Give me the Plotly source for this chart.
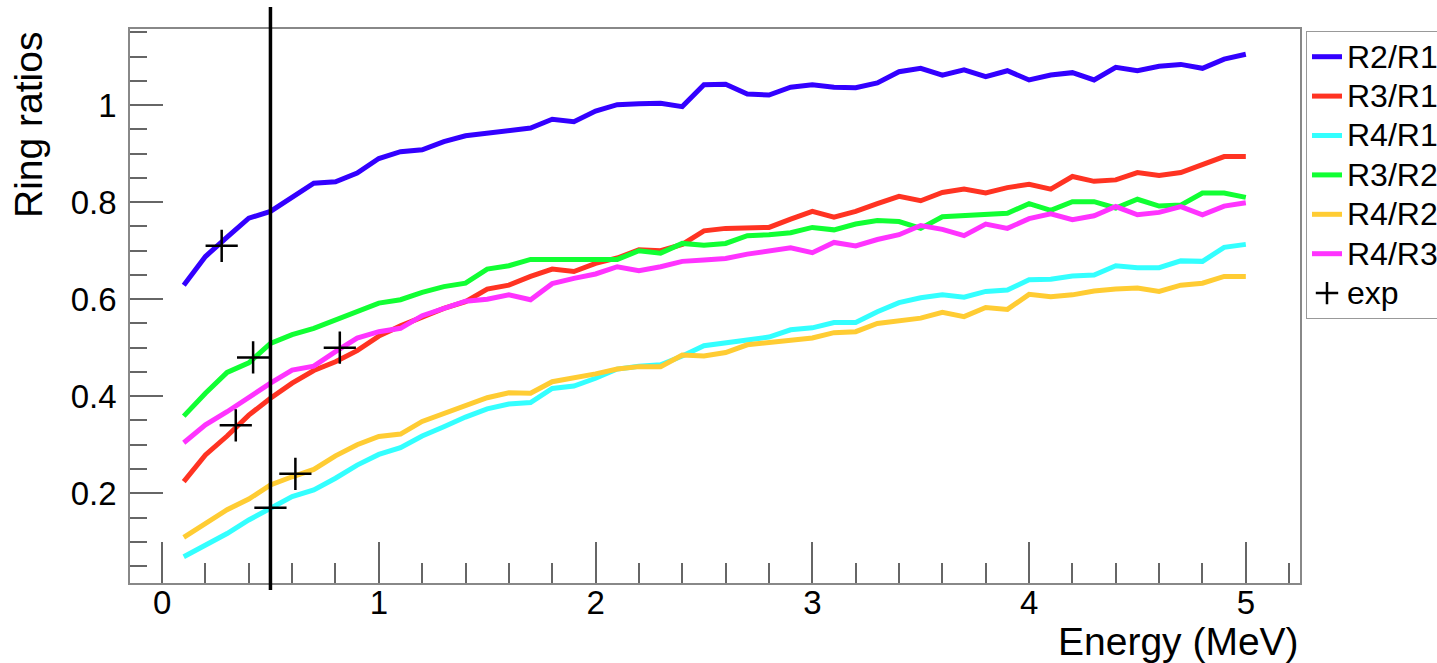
import plotly.graph_objects as go

energy = [0.1, 0.2, 0.3, 0.4, 0.5, 0.6, 0.7, 0.8, 0.9, 1.0,
          1.1, 1.2, 1.3, 1.4, 1.5, 1.6, 1.7, 1.8, 1.9, 2.0,
          2.1, 2.2, 2.3, 2.4, 2.5, 2.6, 2.7, 2.8, 2.9, 3.0,
          3.1, 3.2, 3.3, 3.4, 3.5, 3.6, 3.7, 3.8, 3.9, 4.0,
          4.1, 4.2, 4.3, 4.4, 4.5, 4.6, 4.7, 4.8, 4.9, 5.0]

r2_r1 = [0.629, 0.688, 0.728, 0.767, 0.781, 0.811, 0.839, 0.842, 0.860, 0.890,
         0.904, 0.908, 0.925, 0.937, 0.942, 0.947, 0.953, 0.971, 0.966, 0.988,
         1.001, 1.003, 1.004, 0.997, 1.042, 1.043, 1.023, 1.021, 1.037, 1.042,
         1.037, 1.036, 1.046, 1.069, 1.076, 1.062, 1.073, 1.059, 1.071, 1.052,
         1.062, 1.067, 1.052, 1.078, 1.071, 1.080, 1.084, 1.076, 1.095, 1.105]

r3_r1 = [0.224, 0.279, 0.318, 0.361, 0.396, 0.427, 0.453, 0.471, 0.494, 0.524,
         0.545, 0.564, 0.581, 0.595, 0.621, 0.629, 0.647, 0.662, 0.657, 0.674,
         0.685, 0.702, 0.700, 0.713, 0.741, 0.746, 0.746, 0.748, 0.765, 0.781,
         0.769, 0.781, 0.797, 0.812, 0.803, 0.820, 0.827, 0.819, 0.830, 0.837,
         0.827, 0.853, 0.843, 0.846, 0.861, 0.855, 0.861, 0.877, 0.894, 0.894]

r4_r1 = [0.069, 0.093, 0.117, 0.145, 0.169, 0.193, 0.207, 0.231, 0.258, 0.280,
         0.294, 0.318, 0.337, 0.357, 0.374, 0.384, 0.387, 0.416, 0.421, 0.437,
         0.456, 0.462, 0.465, 0.483, 0.504, 0.511, 0.516, 0.522, 0.537, 0.541,
         0.552, 0.552, 0.574, 0.593, 0.603, 0.609, 0.604, 0.616, 0.619, 0.640,
         0.641, 0.648, 0.650, 0.669, 0.665, 0.665, 0.679, 0.678, 0.707, 0.713]

r3_r2 = [0.359, 0.406, 0.449, 0.469, 0.509, 0.527, 0.540, 0.558, 0.576, 0.592,
         0.599, 0.614, 0.626, 0.633, 0.662, 0.669, 0.682, 0.682, 0.680, 0.682,
         0.682, 0.700, 0.695, 0.715, 0.711, 0.715, 0.731, 0.733, 0.737, 0.748,
         0.743, 0.755, 0.762, 0.760, 0.746, 0.770, 0.772, 0.774, 0.777, 0.797,
         0.783, 0.801, 0.801, 0.788, 0.806, 0.792, 0.794, 0.819, 0.819, 0.810]

r4_r2 = [0.109, 0.138, 0.166, 0.188, 0.217, 0.234, 0.249, 0.277, 0.300, 0.317,
         0.322, 0.348, 0.364, 0.379, 0.397, 0.407, 0.406, 0.430, 0.437, 0.446,
         0.456, 0.461, 0.461, 0.485, 0.483, 0.490, 0.506, 0.511, 0.517, 0.520,
         0.531, 0.533, 0.550, 0.555, 0.561, 0.573, 0.564, 0.583, 0.579, 0.610,
         0.605, 0.609, 0.617, 0.621, 0.623, 0.616, 0.629, 0.633, 0.647, 0.647]

r4_r3 = [0.304, 0.341, 0.368, 0.399, 0.427, 0.454, 0.462, 0.492, 0.520, 0.533,
         0.540, 0.566, 0.581, 0.596, 0.600, 0.609, 0.599, 0.632, 0.643, 0.652,
         0.667, 0.659, 0.667, 0.678, 0.681, 0.684, 0.693, 0.700, 0.706, 0.696,
         0.717, 0.710, 0.723, 0.733, 0.752, 0.744, 0.731, 0.755, 0.746, 0.766,
         0.776, 0.764, 0.772, 0.791, 0.774, 0.779, 0.791, 0.774, 0.792, 0.799]

exp_energy = [0.275, 0.34, 0.42, 0.5, 0.615, 0.82]
exp_ratio = [0.71, 0.34, 0.48, 0.17, 0.24, 0.50]

threshold_energy = 0.5

series_names = ["R2/R1", "R3/R1", "R4/R1", "R3/R2", "R4/R2", "R4/R3"]
series_values = [r2_r1, r3_r1, r4_r1, r3_r2, r4_r2, r4_r3]
series_colors = ["#3300ff", "#ff3322", "#33ffff", "#11ff33", "#ffcc33", "#ff33ff"]

FONT = "Liberation Sans, Arial, Helvetica, sans-serif"
LEG_TXT = "<span style='font-size:32px'>{}</span>"

fig = go.Figure()
for name, vals, col in zip(series_names, series_values, series_colors):
    fig.add_trace(go.Scatter(x=energy, y=vals, mode="lines", name=LEG_TXT.format(name),
                             line=dict(color=col, width=5)))

fig.add_trace(go.Scatter(x=exp_energy, y=exp_ratio, mode="markers", name=LEG_TXT.format("exp"),
                         marker=dict(symbol="cross-thin", size=23, color="black",
                                     line=dict(color="black", width=2.5))))

fig.add_shape(type="line", xref="x", yref="paper",
              x0=threshold_energy, x1=threshold_energy, y0=-0.0126, y1=1.0397,
              line=dict(color="black", width=3.5))

W, H = 1437, 663
L, R, T, B = 130, 137, 29, 80

fig.update_layout(
    width=W, height=H,
    margin=dict(l=L, r=R, t=T, b=B, autoexpand=False),
    paper_bgcolor="white", plot_bgcolor="white",
    font=dict(family=FONT, color="black", size=33),
    showlegend=True,
    legend=dict(xref="container", yref="container", x=1306 / W, y=1 - 31 / H,
                xanchor="left", yanchor="top",
                bordercolor="#999999", borderwidth=1, bgcolor="white",
                font=dict(family=FONT, size=28, color="black"),
                tracegroupgap=0, itemwidth=30),
    xaxis=dict(range=[-0.148, 5.25], showgrid=False, zeroline=False,
               showline=True, linecolor="#888888", linewidth=1.5, mirror=True,
               ticks="inside", ticklen=41, tickwidth=1.5, tickcolor="#666666",
               tick0=0, dtick=1, tickfont=dict(size=33, family=FONT),
               ticklabelstandoff=-10,
               minor=dict(ticks="inside", ticklen=20, tickwidth=1.5,
                          tickcolor="#666666", dtick=0.2, tick0=0, showgrid=False)),
    yaxis=dict(range=[0.015, 1.157], showgrid=False, zeroline=False,
               showline=True, linecolor="#888888", linewidth=1.5, mirror=True,
               ticks="inside", ticklen=33, tickwidth=1.5, tickcolor="#666666",
               tick0=0, dtick=0.2, tickfont=dict(size=33, family=FONT),
               ticklabelstandoff=5,
               minor=dict(ticks="inside", ticklen=17, tickwidth=1.5,
                          tickcolor="#666666", dtick=0.05, tick0=0, showgrid=False)),
)

fig.add_annotation(text="Ring ratios", xref="paper", yref="paper",
                   x=(28 - L) / (W - L - R), y=(H - B - 30) / (H - T - B),
                   xanchor="center", yanchor="top", textangle=-90, showarrow=False,
                   font=dict(family=FONT, size=39, color="black"))

fig.add_annotation(text="Energy (MeV)", xref="paper", yref="paper",
                   x=(1301 - L) / (W - L - R), y=(H - B - 641) / (H - T - B),
                   xanchor="right", yanchor="middle", showarrow=False,
                   font=dict(family=FONT, size=39, color="black"))

fig.write_html("out.html")
